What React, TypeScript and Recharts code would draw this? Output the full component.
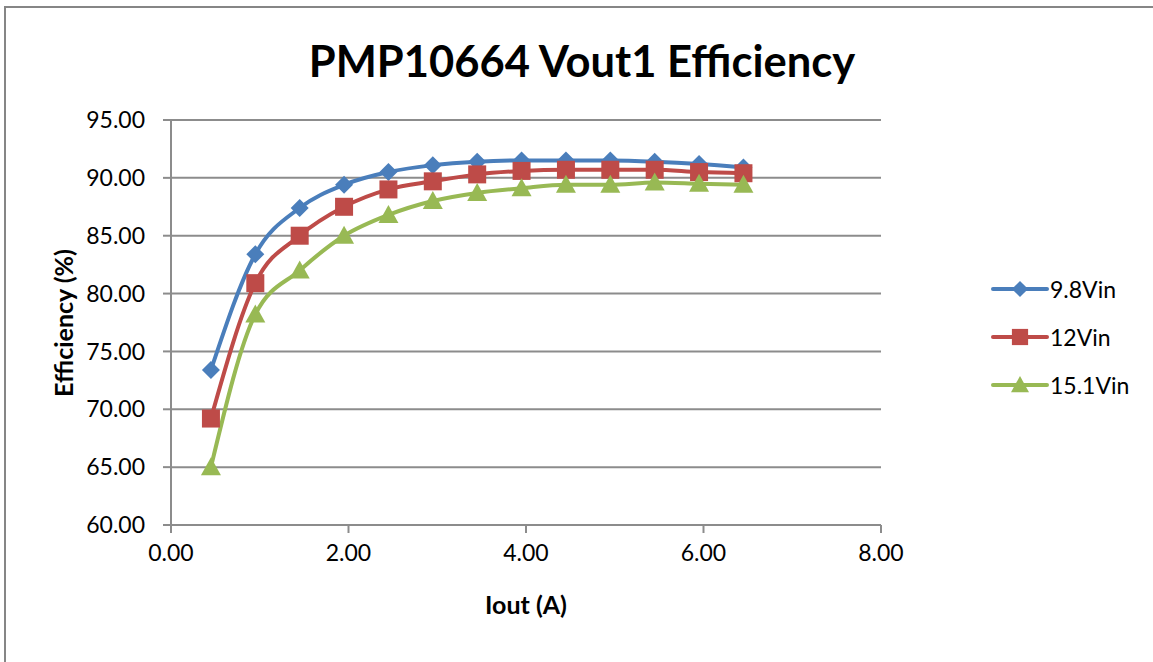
import React from "react";
import {
  LineChart,
  Line,
  XAxis,
  YAxis,
  CartesianGrid,
} from "recharts";

// Iout (A) sample points
const ioutValues = [0.45, 0.95, 1.45, 1.95, 2.45, 2.95, 3.45, 3.95, 4.45, 4.95, 5.45, 5.95, 6.45];

// efficiency (%) per input voltage
const eff98Vin = [73.4, 83.4, 87.4, 89.4, 90.5, 91.1, 91.4, 91.5, 91.5, 91.5, 91.4, 91.2, 90.9];
const eff12Vin = [69.2, 80.9, 85.0, 87.5, 89.0, 89.7, 90.3, 90.6, 90.7, 90.7, 90.7, 90.5, 90.4];
const eff151Vin = [65.0, 78.2, 82.0, 85.0, 86.8, 88.0, 88.7, 89.1, 89.4, 89.4, 89.6, 89.5, 89.4];

const seriesNames = ["9.8Vin", "12Vin", "15.1Vin"];
const seriesKeys = ["v98", "v12", "v151"];
const seriesColors = ["#4A7EBB", "#BE4B48", "#98B954"];

const xTicks = [0, 2, 4, 6, 8];
const yTicks = [60, 65, 70, 75, 80, 85, 90, 95];

const data = ioutValues.map((x, i) => ({
  iout: x,
  v98: eff98Vin[i],
  v12: eff12Vin[i],
  v151: eff151Vin[i],
}));

const GRID = "#8C8C8C";
const FONT = "Lato, 'Open Sans', sans-serif";

// marker shapes like the Excel defaults: diamond, square, triangle
const drawMarker = (shape: number, cx: number, cy: number, color: string, s = 1) => {
  if (shape === 0) {
    const r = 9 * s;
    return <path d={`M${cx},${cy - r}L${cx + r},${cy}L${cx},${cy + r}L${cx - r},${cy}Z`} fill={color} />;
  }
  if (shape === 1) {
    const r = 9 * s;
    return <rect x={cx - r} y={cy - r} width={2 * r} height={2 * r} fill={color} />;
  }
  const w = 10 * s;
  return <path d={`M${cx},${cy - 10 * s}L${cx + w},${cy + 8 * s}L${cx - w},${cy + 8 * s}Z`} fill={color} />;
};

const makeDot = (shape: number, color: string) => (props: any) => {
  const { cx, cy, index } = props;
  if (cx == null || cy == null) return <g key={`d-${shape}-${index}`} />;
  return <g key={`d-${shape}-${index}`}>{drawMarker(shape, cx, cy, color)}</g>;
};

const ChartLegend = () => (
  <div style={{ position: "absolute", left: 990, top: 265 }}>
    {seriesNames.map((name, i) => (
      <div key={name} style={{ display: "flex", alignItems: "center", height: 48 }}>
        <svg width={60} height={24}>
          <line x1={3} y1={12} x2={57} y2={12} stroke={seriesColors[i]} strokeWidth={4} strokeLinecap="round" />
          {drawMarker(i, 30, 12, seriesColors[i], 0.9)}
        </svg>
        <span style={{ fontSize: 23, color: "#000" }}>{name}</span>
      </div>
    ))}
  </div>
);

export default function App() {
  return (
    <div
      style={{
        position: "absolute",
        left: 0,
        top: 0,
        width: 1153,
        height: 662,
        overflow: "hidden",
        background: "#fff",
        fontFamily: FONT,
      }}
    >
      <div
        style={{
          position: "absolute",
          left: 4,
          top: 6,
          width: 1300,
          height: 800,
          border: "2px solid #868686",
        }}
      />
      <div
        style={{
          position: "absolute",
          left: 0,
          width: 1164,
          top: 37,
          textAlign: "center",
          fontSize: 43.5,
          fontWeight: 700,
          lineHeight: "46px",
          color: "#000",
        }}
      >
        PMP10664 Vout1 Efficiency
      </div>
      <div style={{ position: "absolute", left: 0, top: 0 }}>
        <LineChart
          width={1153}
          height={662}
          data={data}
          margin={{ top: 120, right: 272, left: 0, bottom: 0 }}
        >
          <CartesianGrid vertical={false} stroke={GRID} strokeWidth={2} />
          <XAxis
            dataKey="iout"
            type="number"
            domain={[0, 8]}
            ticks={xTicks}
            tickFormatter={(v: number) => v.toFixed(2)}
            height={137}
            stroke={GRID}
            strokeWidth={2}
            tickSize={8}
            tickMargin={12}
            tick={{ fontSize: 23, fill: "#000", fontFamily: FONT }}
            label={{
              content: () => (
                <text x={526} y={614} textAnchor="middle" fontSize={25} fontWeight={700} fill="#000" fontFamily={FONT}>
                  Iout (A)
                </text>
              ),
            }}
          />
          <YAxis
            type="number"
            domain={[60, 95]}
            ticks={yTicks}
            tickFormatter={(v: number) => v.toFixed(2)}
            width={171}
            stroke={GRID}
            strokeWidth={2}
            tickSize={8}
            tickMargin={18}
            tick={{ fontSize: 23, fill: "#000", fontFamily: FONT }}
            label={{
              content: () => (
                <text
                  x={73}
                  y={323}
                  transform="rotate(-90 73 323)"
                  textAnchor="middle"
                  fontSize={25}
                  fontWeight={700}
                  fill="#000"
                  fontFamily={FONT}
                >
                  Efficiency (%)
                </text>
              ),
            }}
          />
          {seriesKeys.map((k, i) => (
            <Line
              key={k}
              dataKey={k}
              name={seriesNames[i]}
              type="monotone"
              stroke={seriesColors[i]}
              strokeWidth={4}
              dot={makeDot(i, seriesColors[i])}
              activeDot={false}
              isAnimationActive={false}
            />
          ))}
        </LineChart>
      </div>
      <ChartLegend />
    </div>
  );
}
